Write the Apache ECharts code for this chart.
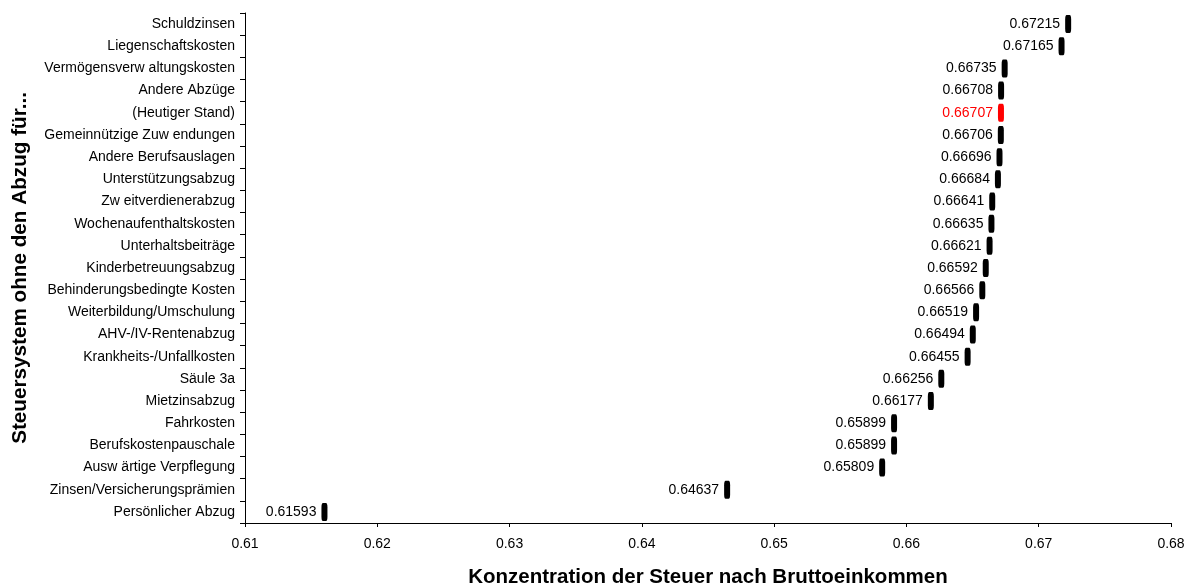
<!DOCTYPE html>
<html>
<head>
<meta charset="utf-8">
<style>
html,body{margin:0;padding:0;background:#fff;}
#chart{width:1193px;height:586px;}
</style>
<script src="https://cdn.jsdelivr.net/npm/echarts@6/dist/echarts.min.js"></script>
</head>
<body>
<div id="chart"></div>
<script>
// Categories listed top to bottom
const categories = [
  "Schuldzinsen",
  "Liegenschaftskosten",
  "Vermögensverw altungskosten",
  "Andere Abzüge",
  "(Heutiger Stand)",
  "Gemeinnützige Zuw endungen",
  "Andere Berufsauslagen",
  "Unterstützungsabzug",
  "Zw eitverdienerabzug",
  "Wochenaufenthaltskosten",
  "Unterhaltsbeiträge",
  "Kinderbetreuungsabzug",
  "Behinderungsbedingte Kosten",
  "Weiterbildung/Umschulung",
  "AHV-/IV-Rentenabzug",
  "Krankheits-/Unfallkosten",
  "Säule 3a",
  "Mietzinsabzug",
  "Fahrkosten",
  "Berufskostenpauschale",
  "Ausw ärtige Verpflegung",
  "Zinsen/Versicherungsprämien",
  "Persönlicher Abzug"
];
const values = [
  0.67215, 0.67165, 0.66735, 0.66708, 0.66707, 0.66706, 0.66696, 0.66684,
  0.66641, 0.66635, 0.66621, 0.66592, 0.66566, 0.66519, 0.66494, 0.66455,
  0.66256, 0.66177, 0.65899, 0.65899, 0.65809, 0.64637, 0.61593
];
const highlightCategory = "(Heutiger Stand)";
const xTicks = [0.61, 0.62, 0.63, 0.64, 0.65, 0.66, 0.67, 0.68];
const xTitle = "Konzentration der Steuer nach Bruttoeinkommen";
const yTitle = "Steuersystem ohne den Abzug für...";

const FONT = '"Liberation Sans", Arial, sans-serif';

const seriesData = values.map((v, i) => {
  const hi = categories[i] === highlightCategory;
  const col = hi ? '#ff0000' : '#000000';
  return {
    value: [v, i],
    itemStyle: { color: col, opacity: 1 },
    label: { color: col }
  };
});

const chart = echarts.init(document.getElementById('chart'), null, { renderer: 'canvas' });
chart.setOption({
  animation: false,
  backgroundColor: '#ffffff',
  grid: { left: 245, right: 22, top: 13, bottom: 63, containLabel: false, outerBoundsMode: 'none' },
  xAxis: {
    type: 'value',
    min: xTicks[0],
    max: xTicks[xTicks.length - 1],
    interval: 0.01,
    name: xTitle,
    nameLocation: 'middle',
    nameGap: 44,
    nameTextStyle: { fontFamily: FONT, fontSize: 20.5, fontWeight: 'bold', color: '#000' },
    axisLine: { show: true, lineStyle: { color: '#000', width: 1 } },
    axisTick: { show: true, inside: false, length: 4, lineStyle: { color: '#000' } },
    axisLabel: {
      fontFamily: FONT, fontSize: 14, color: '#000', margin: 14,
      formatter: v => v.toFixed(2)
    },
    splitLine: { show: false }
  },
  yAxis: {
    type: 'category',
    data: categories,
    inverse: true,
    boundaryGap: true,
    name: yTitle,
    nameLocation: 'middle',
    nameGap: 214,
    nameRotate: 90,
    nameTextStyle: { fontFamily: FONT, fontSize: 20.7, fontWeight: 'bold', color: '#000' },
    axisLine: { show: true, lineStyle: { color: '#000', width: 1 } },
    axisTick: { show: true, inside: false, length: 5, alignWithLabel: false, lineStyle: { color: '#000' } },
    axisLabel: { fontFamily: FONT, fontSize: 14, color: '#000', margin: 10, interval: 0 },
    splitLine: { show: false }
  },
  series: [{
    type: 'scatter',
    data: seriesData,
    symbol: 'roundRect',
    symbolSize: [6, 18],
    symbolOffset: [1, 0],
    itemStyle: { opacity: 1 },
    label: {
      show: true,
      position: 'left',
      distance: 5,
      fontFamily: FONT,
      fontSize: 14,
      color: '#000',
      formatter: p => p.value[0].toFixed(5)
    }
  }]
});
</script>
</body>
</html>
